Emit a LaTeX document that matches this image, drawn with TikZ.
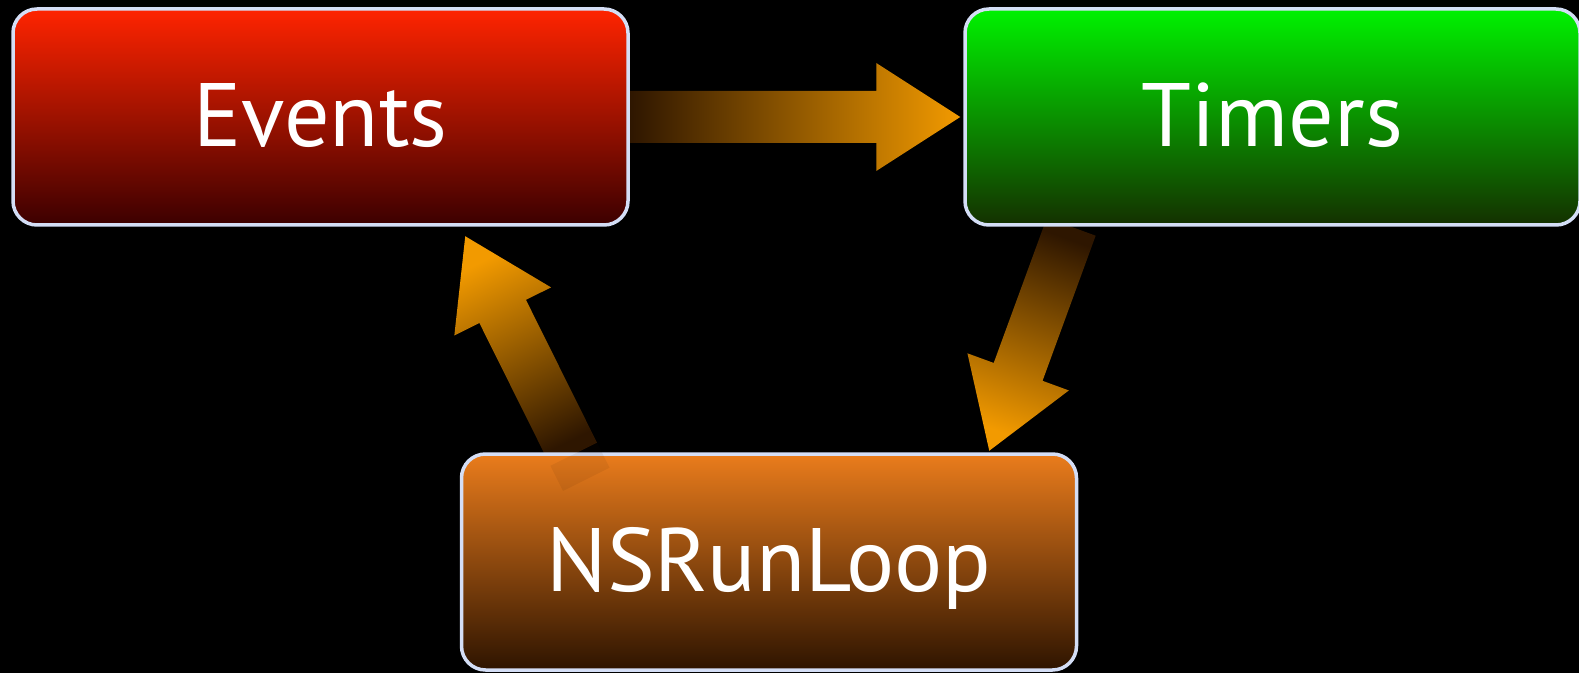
\documentclass[tikz,border=0pt]{standalone}
\usepackage{fontspec}
\setmainfont{PT Sans}
\usepackage{tikz}
\usetikzlibrary{calc}

\pgfdeclarelayer{background}
\pgfsetlayers{background,main}

\definecolor{evtop}{HTML}{FF2400}
\definecolor{evbot}{HTML}{3C0000}
\definecolor{tmtop}{HTML}{00F200}
\definecolor{tmbot}{HTML}{143000}
\definecolor{rltop}{HTML}{EA7C1C}
\definecolor{rlbot}{HTML}{2E1400}
\definecolor{rim}{HTML}{D4DEF6}
\definecolor{arrdark}{HTML}{2E1600}
\definecolor{arrlight}{HTML}{F29A00}

% fat arrow from #2 to #3
\newcommand{\fatarrow}[3][]{%
  \coordinate (fa-h) at ($(#3)!84pt!(#2)$);
  \shade[#1] ($(#2)!26pt!90:(#3)$) -- ($(fa-h)!26pt!-90:(#2)$) -- ($(fa-h)!54pt!-90:(#2)$)
    -- (#3) -- ($(fa-h)!54pt!90:(#2)$) -- ($(fa-h)!26pt!90:(#2)$) -- ($(#2)!26pt!-90:(#3)$) -- cycle;
}

\begin{document}
\begin{tikzpicture}[
    x=1pt, y=1pt,
    box/.style={draw=rim, line width=3.5pt, rounded corners=24pt, minimum width=615pt, minimum height=216pt,
                text=white, text height=65pt, text depth=6pt, font=\fontsize{90}{100}\selectfont},
    flow/.style={shading=axis}
]
    \useasboundingbox (0,0) rectangle (1579,673);

    \node[box, top color=evtop, bottom color=evbot] (events) at (320.5,556) {Events};
    \node[box, top color=tmtop, bottom color=tmbot] (timers) at (1272.5,556) {Timers};
    \node[box, top color=rltop, bottom color=rlbot] (runloop) at (769,111) {NSRunLoop};

    \coordinate (a1) at (events.east);
    \coordinate (b1) at ([xshift=-3pt]timers.west);
    \coordinate (a2) at ([xshift=108pt]timers.south west);
    \coordinate (b2) at ([xshift=529.5pt, yshift=1.5pt]runloop.north west);
    \coordinate (a3) at ([xshift=114pt, yshift=-2pt]runloop.north west);
    \coordinate (b3) at ([xshift=454pt, yshift=-9.5pt]events.south west);

    \begin{pgfonlayer}{background}
        \fill[black] (0,0) rectangle (1579,673);
        \fatarrow[flow, left color=arrdark, right color=arrlight]{a1}{b1}
        \fatarrow[flow, top color=arrdark, bottom color=arrlight, shading angle=-20]{a2}{b2}
        \fatarrow[flow, top color=arrlight, bottom color=arrdark, shading angle=26]{a3}{b3}
    \end{pgfonlayer}

    % shaft showing through the top of the run loop box
    \fill[arrdark, opacity=0.07] ($(a3)!26pt!90:(b3)$) -- ($(a3)!26pt!-90:(b3)$)
        -- ($(a3)!-28pt!(b3)!26pt!-90:(b3)$) -- ($(a3)!-28pt!(b3)!26pt!90:(b3)$) -- cycle;
\end{tikzpicture}
\end{document}
